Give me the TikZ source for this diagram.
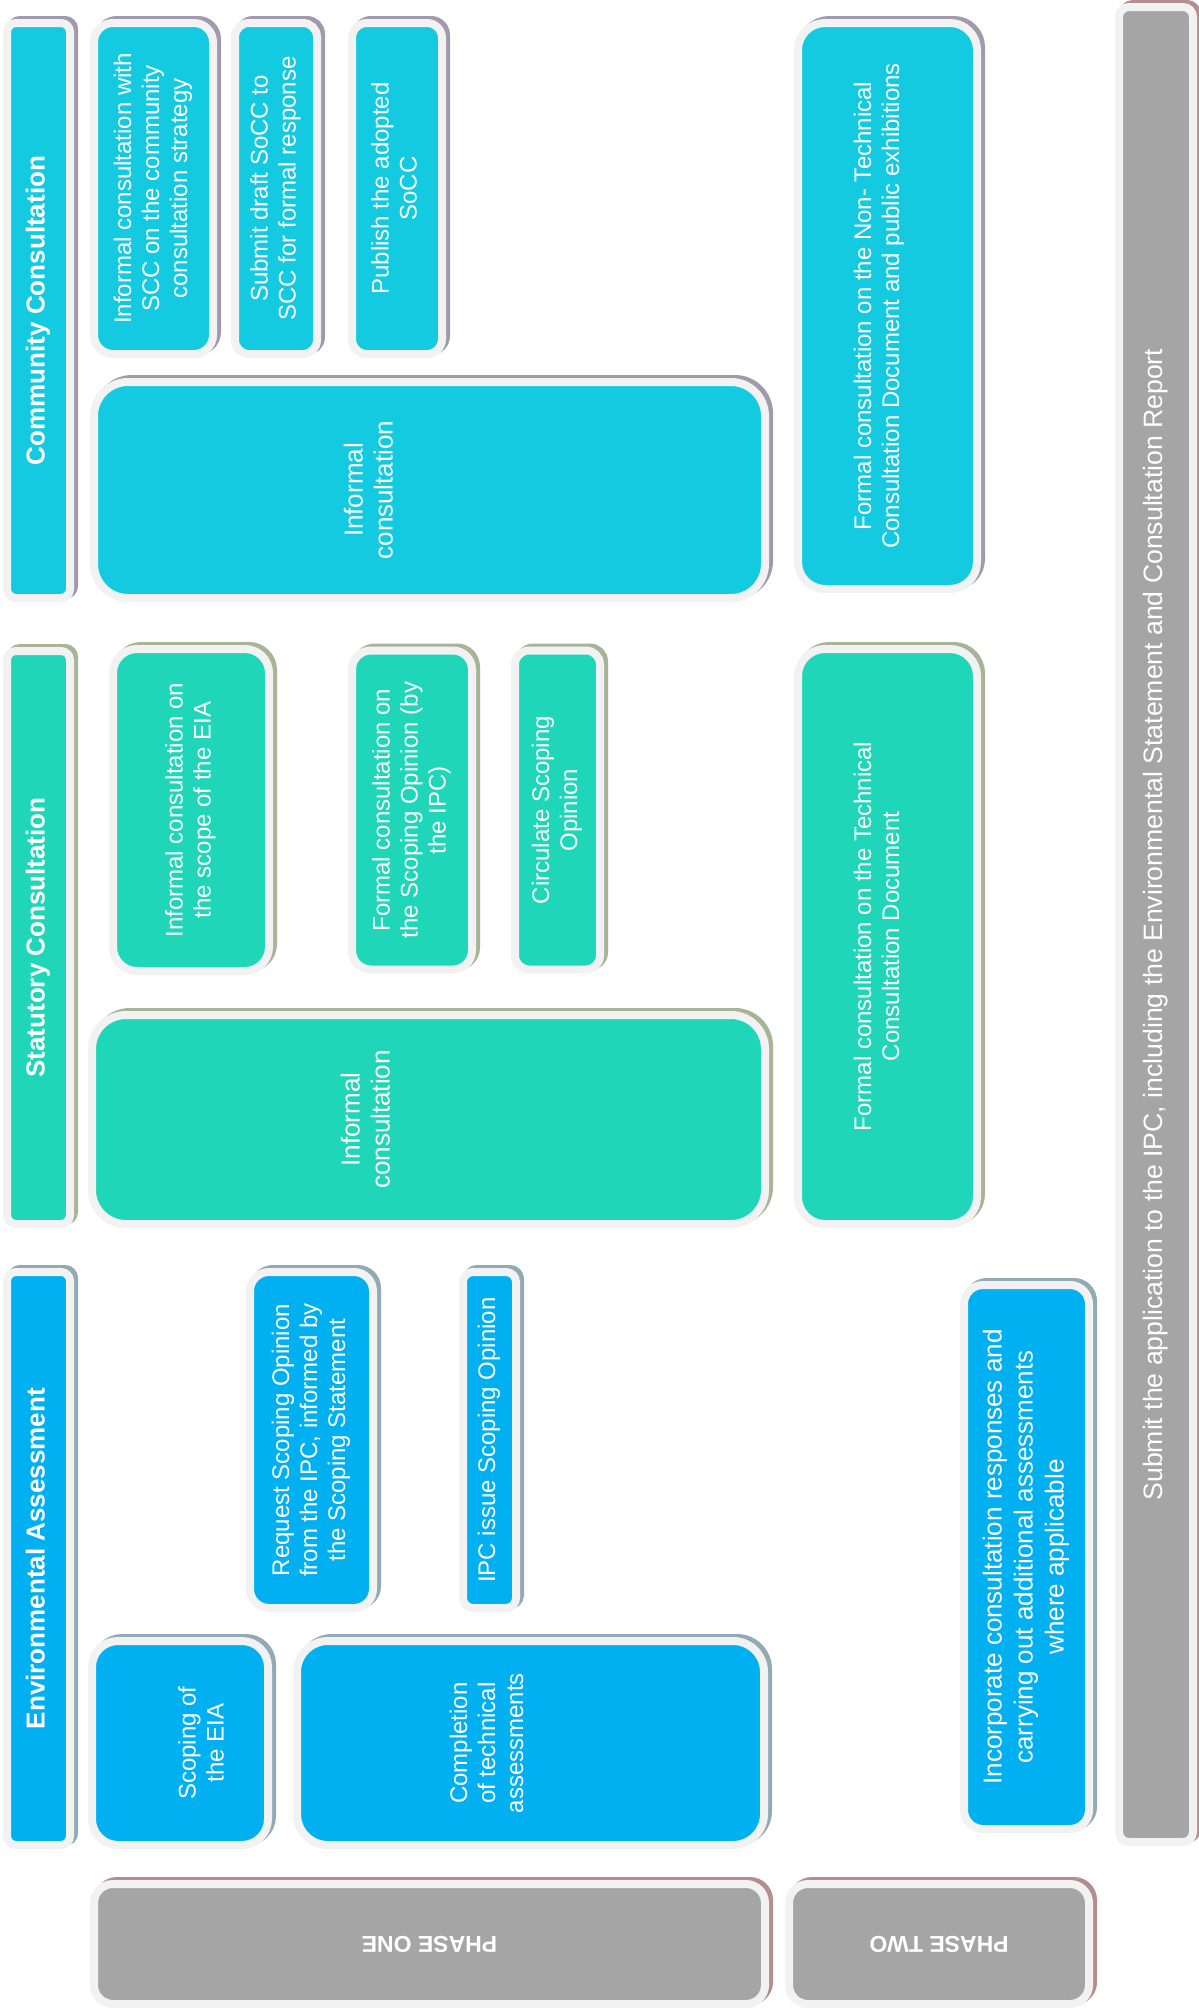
\documentclass[tikz,border=0pt]{standalone}
\usepackage{fontspec}
\setmainfont{Liberation Sans}
\usepackage{graphicx}
\usetikzlibrary{positioning}

\definecolor{commfill}{RGB}{20,202,224}
\definecolor{statfill}{RGB}{31,214,185}
\definecolor{envfill}{RGB}{0,176,240}
\definecolor{phasefill}{RGB}{165,165,165}
\definecolor{rimgrey}{RGB}{242,242,242}
\definecolor{commshade}{RGB}{160,154,172}
\definecolor{statshade}{RGB}{168,180,152}
\definecolor{envshade}{RGB}{146,170,180}
\definecolor{phaseshade}{RGB}{180,142,140}

% rotated multi-line text, and a sideways nudge of it inside its box
\newcommand{\vtxt}[1]{\rotatebox{90}{\begin{tabular}{@{}c@{}}#1\end{tabular}}}
\newcommand{\nudge}[2]{\kern#1\relax#2\kern-#1\relax}

\tikzset{
  panel/.style={rectangle, draw=rimgrey, line width=8pt, inner sep=0pt, outer sep=0pt,
    text=white, font=\fontsize{24}{28}\selectfont,
    preaction={draw=#1, fill=#1, line width=8pt, transform canvas={xshift=4pt, yshift=3pt}}},
  commbox/.style={panel=commshade, fill=commfill},
  statbox/.style={panel=statshade, fill=statfill},
  envbox/.style={panel=envshade, fill=envfill},
  phasebox/.style={panel=phaseshade, fill=phasefill},
  hdr/.style={rounded corners=9pt, minimum width=63pt, minimum height=573pt,
    font=\bfseries\fontsize{26}{30}\selectfont},
  bigtext/.style={font=\fontsize{26}{30}\selectfont}
}

\begin{document}
\begin{tikzpicture}[x=1pt, y=-1pt]
  \path[use as bounding box, fill=white] (0,0) rectangle (1199,2014);

  % Community consultation
  \node[commbox, hdr, minimum height=575pt] (CommunityHead) at (38.5,310.5) {\vtxt{Community Consultation}};
  \node[commbox, rounded corners=19pt, minimum width=119pt, minimum height=331pt] (SCCStrategy) at (153.5,188.5)
    {\vtxt{Informal consultation with\\SCC on the community\\consultation strategy}};
  \node[commbox, rounded corners=14pt, minimum width=82pt, minimum height=331pt, right=22pt of SCCStrategy] (SubmitSoCC)
    {\vtxt{Submit draft SoCC to\\SCC for formal response}};
  \node[commbox, rounded corners=15pt, minimum width=90pt, minimum height=331pt, right=35pt of SubmitSoCC] (PublishSoCC)
    {\vtxt{Publish the adopted\\SoCC}};
  \node[commbox, bigtext, rounded corners=34pt, minimum width=671pt, minimum height=216pt] (CommunityInformal) at (429.5,490)
    {\nudge{-58pt}{\vtxt{Informal\\consultation}}};
  \node[commbox, rounded corners=27pt, minimum width=179pt, minimum height=566pt] (NonTechnical) at (887.5,306)
    {\nudge{-8pt}{\vtxt{Formal consultation on the Non- Technical\\Consultation Document and public exhibitions}}};

  % Statutory consultation
  \node[statbox, hdr] (StatutoryHead) at (38.5,937.5) {\vtxt{Statutory Consultation}};
  \node[statbox, rounded corners=24pt, minimum width=156pt, minimum height=322pt] (ScopeEIA) at (191,810)
    {\vtxt{Informal consultation on\\the scope of the EIA}};
  \node[statbox, rounded corners=19pt, minimum width=120pt, minimum height=319pt, right=83pt of ScopeEIA] (FormalScoping)
    {\vtxt{Formal consultation on\\the Scoping Opinion (by\\the IPC)}};
  \node[statbox, rounded corners=14pt, minimum width=85pt, minimum height=319pt, right=43pt of FormalScoping] (CirculateOpinion)
    {\vtxt{Circulate Scoping\\Opinion}};
  \node[statbox, bigtext, rounded corners=34pt, minimum width=673pt, minimum height=209pt] (StatutoryInformal) at (428.5,1119.5)
    {\nudge{-60pt}{\vtxt{Informal\\consultation}}};
  \node[statbox, rounded corners=27pt, minimum width=179pt, minimum height=575pt] (TechnicalDoc) at (887.5,936.5)
    {\nudge{-8pt}{\vtxt{Formal consultation on the Technical\\Consultation Document}}};

  % Environmental assessment
  \node[envbox, hdr] (EnvironmentHead) at (38.5,1558.5) {\vtxt{Environmental Assessment}};
  \node[envbox, rounded corners=19pt, minimum width=123pt, minimum height=336pt] (RequestOpinion) at (311.5,1440)
    {\vtxt{Request Scoping Opinion\\from the IPC, informed by\\the Scoping Statement}};
  \node[envbox, rounded corners=10pt, minimum width=53pt, minimum height=336pt, right=90pt of RequestOpinion] (IssueOpinion)
    {\vtxt{IPC issue Scoping Opinion}};
  \node[envbox, rounded corners=26pt, minimum width=176pt, minimum height=204pt] (ScopingEIA) at (180,1743)
    {\nudge{24pt}{\vtxt{Scoping of\\the EIA}}};
  \node[envbox, rounded corners=31pt, minimum width=467pt, minimum height=204pt, right=29pt of ScopingEIA] (TechAssessments)
    {\nudge{-41pt}{\vtxt{Completion\\of technical\\assessments}}};
  \node[envbox, rounded corners=19pt, minimum width=125pt, minimum height=544pt,
    font=\fontsize{26}{31}\selectfont] (Incorporate) at (1026.5,1557)
    {\vtxt{Incorporate consultation responses and\\carrying out additional assessments\\where applicable}};

  % Submission and phases
  \node[phasebox, rounded corners=10pt, minimum width=74pt, minimum height=1835pt,
    font=\fontsize{26.6}{30}\selectfont] (SubmitApplication) at (1156,924.5)
    {\vtxt{Submit the application to the IPC, including the Environmental Statement and Consultation Report}};
  \node[phasebox, rounded corners=19pt, minimum width=671pt, minimum height=120pt,
    font=\bfseries\fontsize{23}{27}\selectfont] (PhaseOne) at (429.5,1944) {\rotatebox{180}{PHASE ONE}};
  \node[phasebox, rounded corners=19pt, minimum width=300pt, minimum height=120pt,
    font=\bfseries\fontsize{23}{27}\selectfont, right=24pt of PhaseOne] (PhaseTwo) {\rotatebox{180}{PHASE TWO}};

\end{tikzpicture}
\end{document}
